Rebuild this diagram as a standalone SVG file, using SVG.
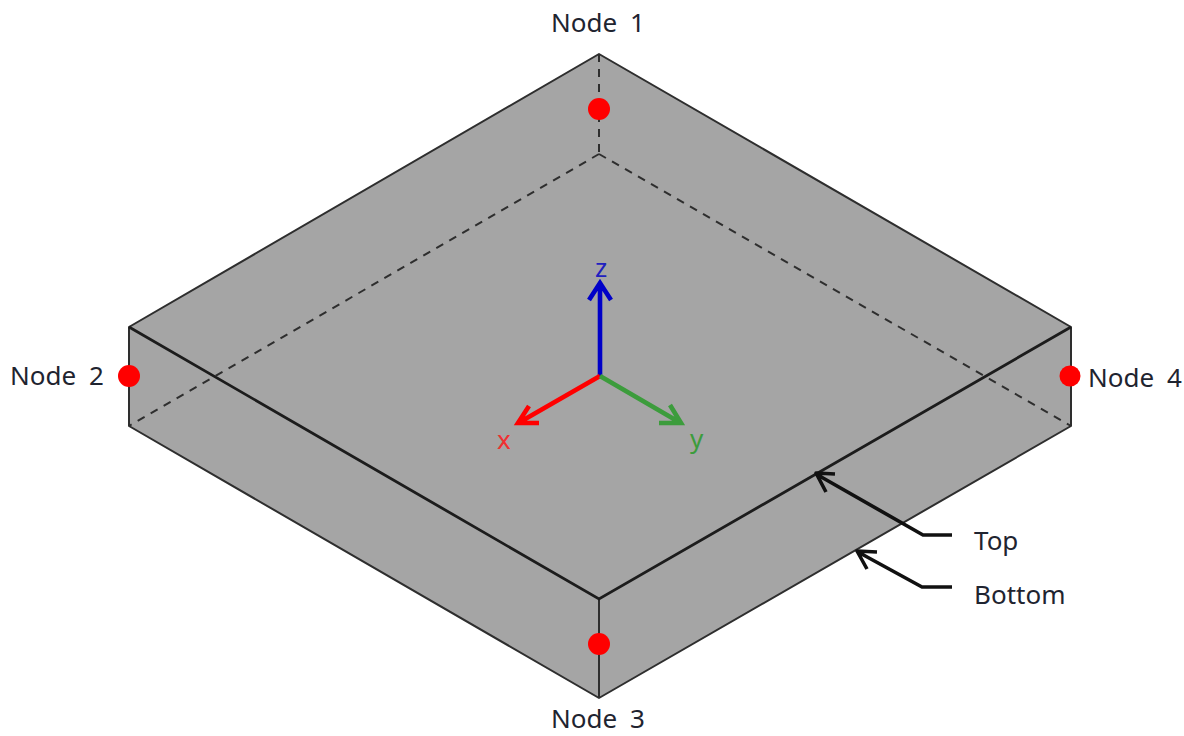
<svg xmlns="http://www.w3.org/2000/svg" width="1184" height="736" viewBox="0 0 1184 736">
<defs>
<style>
.e{fill:none;stroke:#2e2e2e;stroke-width:2;stroke-linejoin:round}
.d{fill:none;stroke:#2e2e2e;stroke-width:2;stroke-dasharray:8 7}
.t{fill:none;stroke:#1c1c1c;stroke-width:2.8}
.a{fill:none;stroke-width:4.6;stroke-linejoin:miter}
.k{fill:none;stroke:#111;stroke-width:3.6;stroke-linejoin:round}
text{font-family:"Noto Sans","Open Sans","Liberation Sans",sans-serif;font-size:26px;word-spacing:6px;fill:#1f2430}
.n{fill:#ff0000}
</style>
</defs>
<rect width="1184" height="736" fill="#ffffff"/>
<g id="block">
<path d="M599 54L1071 327V426L599 698L129 426V327Z" fill="#a5a5a5"/>
</g>
<g id="connectors">
<path class="e" d="M599 54L1071 327V426L599 698L129 426V327Z"/>
<path class="e" d="M599 599V698"/>
<path class="t" d="M129 327L599 599L1071 327"/>
<path class="d" d="M599 54V154"/>
<path class="d" d="M599 154L129 426"/>
<path class="d" d="M599 154L1071 426"/>
<g id="axes">
<path class="a" stroke="#0000c8" d="M600 376V284M589 300L600 283L611 300"/>
<path class="a" stroke="#ff0000" d="M600 376L520 422M529 406L518 423L539 423"/>
<path class="a" stroke="#3c9c3c" d="M600 376L679 422M670 405L681 423L659 423"/>
</g>
<path class="k" d="M952 535H923L816 474M835 474L816 473L826 492"/>
<path class="k" d="M952 587H922L858 552M877 552L857 551L867 569"/>
</g>
<g id="node-1"><circle class="n" cx="599" cy="109" r="11"/><text x="551" y="32">Node 1</text></g>
<g id="node-2"><circle class="n" cx="129" cy="376" r="11"/><text x="10" y="385">Node 2</text></g>
<g id="node-3"><circle class="n" cx="599" cy="644" r="11"/><text x="551" y="728">Node 3</text></g>
<g id="node-4"><circle class="n" cx="1070" cy="376" r="10.5"/><text x="1088" y="387">Node 4</text></g>
<g id="label-x"><text x="497" y="449" style="fill:#f03030">x</text></g>
<g id="label-y"><text x="690" y="448" style="fill:#3c9c3c">y</text></g>
<g id="label-z"><text x="595" y="277" style="fill:#2020c0">z</text></g>
<g id="label-top"><text x="974" y="550">Top</text></g>
<g id="label-bottom"><text x="974" y="604">Bottom</text></g>
</svg>
